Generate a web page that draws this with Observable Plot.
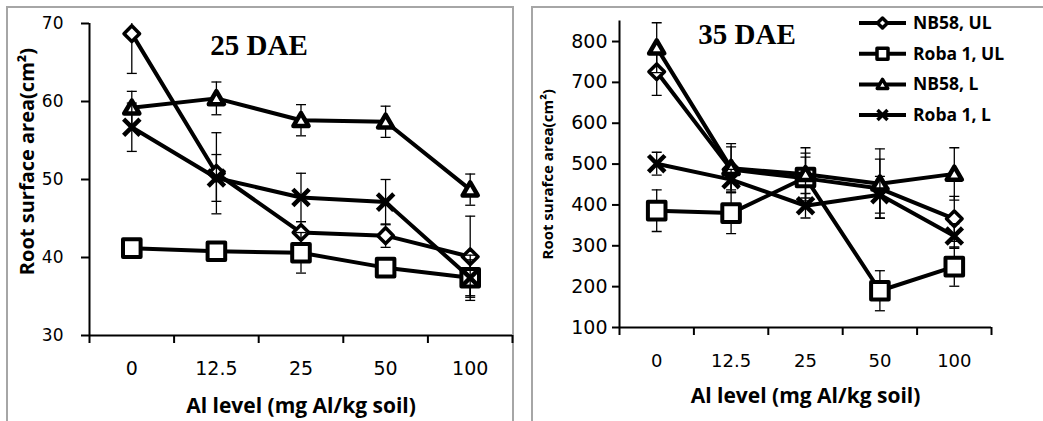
<!DOCTYPE html>
<html>
<head>
<meta charset="utf-8">
<script src="https://cdn.jsdelivr.net/npm/d3@7"></script>
<script src="https://cdn.jsdelivr.net/npm/@observablehq/plot@0.6"></script>
<style>
  html, body { margin: 0; padding: 0; background: #fff; }
  body { width: 1043px; height: 421px; overflow: hidden; position: relative; font-family: "Open Sans", sans-serif; }
  .frame { position: absolute; box-sizing: border-box; border-color: #a6a6a6; border-style: solid; }
  #f1 { left: 6px; top: 6px; width: 508px; height: 430px; border-width: 2px 2px 0 2px; }
  #f2 { left: 531px; top: 6px; width: 520px; height: 430px; border-width: 2px 0 0 2px; }
  .panel { position: absolute; top: 0; }
  #p1 { left: 0; }
  #p2 { left: 520px; }
  #legend { position: absolute; left: 0; top: 0; }
</style>
</head>
<body>
<div class="frame" id="f1"></div>
<div class="frame" id="f2"></div>
<div class="panel" id="p1"></div>
<div class="panel" id="p2"></div>
<svg id="legend" width="1043" height="421"></svg>
<script>
// ---------- data ----------
const categories = ["0", "12.5", "25", "50", "100"];
const seriesNames = ["NB58, UL", "Roba 1, UL", "NB58, L", "Roba 1, L"];

// 25 DAE (root surface area, cm²) and error bars
const d25_NB58_UL = [68.7, 50.8, 43.2, 42.8, 40.1];
const d25_NB58_UL_err = [5.1, 5.2, 1.4, 1.5, 5.2];
const d25_Roba1_UL = [41.2, 40.8, 40.6, 38.7, 37.4];
const d25_Roba1_UL_err = [0.8, 0.8, 2.6, 1.2, 2.3];
const d25_NB58_L = [59.2, 60.4, 57.6, 57.4, 48.7];
const d25_NB58_L_err = [2.1, 2.1, 2.0, 2.0, 2.0];
const d25_Roba1_L = [56.7, 50.2, 47.7, 47.1, 37.4];
const d25_Roba1_L_err = [3.1, 3.0, 3.1, 2.9, 2.9];

// 35 DAE
const d35_NB58_UL = [726, 487, 465, 440, 366];
const d35_NB58_UL_err = [58, 55, 62, 72, 55];
const d35_Roba1_UL = [386, 380, 467, 190, 249];
const d35_Roba1_UL_err = [51, 50, 50, 49, 48];
const d35_NB58_L = [785, 490, 475, 452, 476];
const d35_NB58_L_err = [61, 60, 65, 85, 64];
const d35_Roba1_L = [501, 462, 398, 425, 324];
const d35_Roba1_L_err = [28, 25, 30, 45, 30];

const yTicks25 = [30, 40, 50, 60, 70];
const yTicks35 = [100, 200, 300, 400, 500, 600, 700, 800];

// ---------- symbols ----------
const R = size => Math.sqrt(size / Math.PI);
const symDiamond = { draw(c, s) { const r = R(s); c.moveTo(0, -r); c.lineTo(r, 0); c.lineTo(0, r); c.lineTo(-r, 0); c.closePath(); } };
const symSquare = { draw(c, s) { const r = R(s); c.moveTo(-r, -r); c.lineTo(r, -r); c.lineTo(r, r); c.lineTo(-r, r); c.closePath(); } };
const symTriangle = { draw(c, s) { const r = R(s); c.moveTo(0, -r); c.lineTo(r * 1.05, r * 0.8); c.lineTo(-r * 1.05, r * 0.8); c.closePath(); } };
const symTimes = { draw(c, s) { const r = R(s); c.moveTo(-r, -r); c.lineTo(r, r); c.moveTo(r, -r); c.lineTo(-r, r); } };
const symCap = { draw(c, s) { const r = R(s); c.moveTo(-r, 0); c.lineTo(r, 0); } };

const symbols = [symDiamond, symSquare, symTriangle, symTimes];
const symR = [7.8, 8.8, 7.2, 8.2];
const symSW = [3.5, 4, 4.5, 4.5];
const tickFont = "'DejaVu Sans', sans-serif";

function buildPanel(el, cfg) {
  const marks = [];
  cfg.values.forEach((vals, s) => {
    const rows = vals.map((v, i) => ({
      x: categories.indexOf(categories[i]),
      v, lo: v - cfg.errs[s][i], hi: v + cfg.errs[s][i]
    }));
    marks.push(Plot.ruleX(rows, {x: "x", y1: "lo", y2: "hi", stroke: "black", strokeWidth: 1.3, clip: true}));
    marks.push(Plot.dot(rows, {x: "x", y: "lo", symbol: symCap, r: 5, fill: "none", stroke: "black", strokeWidth: 1.3, clip: true}));
    marks.push(Plot.dot(rows, {x: "x", y: "hi", symbol: symCap, r: 5, fill: "none", stroke: "black", strokeWidth: 1.3, clip: true}));
    marks.push(Plot.line(rows, {x: "x", y: "v", stroke: "black", strokeWidth: 4, strokeLinejoin: "round"}));
    marks.push(Plot.dot(rows, {x: "x", y: "v", symbol: symbols[s], r: symR[s], fill: "white", stroke: "black",
      strokeWidth: symSW[s], strokeLinejoin: "round"}));
  });
  const idx = categories.map((c, i) => i);
  const bounds = d3.range(-0.5, categories.length, 1);
  const plot = Plot.plot({
    width: cfg.width, height: 421,
    marginLeft: cfg.ml, marginRight: cfg.mr, marginTop: cfg.mt, marginBottom: cfg.mb,
    style: {fontFamily: "'Open Sans', sans-serif", fontSize: "17px", color: "black", background: "transparent", overflow: "visible"},
    x: {type: "linear", domain: [-0.5, categories.length - 0.5]},
    y: {domain: cfg.yDomain},
    marks: [
      Plot.axisY(cfg.yTicks, {tickSize: cfg.yTickSize, tickPadding: cfg.yTickPad, strokeWidth: 2,
        fontSize: cfg.yFont, fontFamily: tickFont, label: null}),
      Plot.axisX(bounds, {tickSize: 8, strokeWidth: 2, tickFormat: () => "", label: null}),
      Plot.axisX(idx, {tickSize: 0, tickPadding: cfg.xPad, tickFormat: i => categories[i],
        fontSize: cfg.xFont, fontFamily: tickFont, label: null}),
      Plot.ruleX([-0.5], {stroke: "black", strokeWidth: 2}),
      Plot.ruleY([cfg.yDomain[0]], {stroke: "black", strokeWidth: 2}),
      ...marks,
      Plot.text([cfg.title], {text: d => d, frameAnchor: "top", dx: cfg.titleDx, dy: cfg.titleDy, lineAnchor: "middle",
        textAnchor: "middle", fontFamily: "'Liberation Serif', 'Times New Roman', serif", fontWeight: "bold", fontSize: 29}),
      Plot.text(["Al level (mg Al/kg soil)"], {text: d => d, frameAnchor: "bottom", dy: cfg.xTitleDy, lineAnchor: "middle",
        textAnchor: "middle", fontWeight: "bold", fontSize: 21}),
      Plot.text([cfg.yTitle], {text: d => d, frameAnchor: "left", dx: cfg.yTitleDx, dy: cfg.yTitleDy, rotate: -90,
        lineAnchor: "middle", textAnchor: "middle", fontWeight: "bold", fontSize: cfg.yTitleFont})
    ]
  });
  el.appendChild(plot);
}

buildPanel(document.getElementById("p1"), {
  width: 520, ml: 89, mr: 8, mt: 23, mb: 86,
  yDomain: [30, 70], yTicks: yTicks25, yTickSize: 8, yTickPad: 18, yFont: 17, xFont: 19, xPad: 26,
  values: [d25_NB58_UL, d25_Roba1_UL, d25_NB58_L, d25_Roba1_L],
  errs: [d25_NB58_UL_err, d25_Roba1_UL_err, d25_NB58_L_err, d25_Roba1_L_err],
  title: "25 DAE", titleDx: -42, titleDy: 22,
  xTitleDy: 70.6, yTitle: "Root surface area(cm²)", yTitleDx: -62, yTitleDy: -18, yTitleFont: 20
});

buildPanel(document.getElementById("p2"), {
  width: 523, ml: 99, mr: 52, mt: 20.6, mb: 94,
  yDomain: [100, 850], yTicks: yTicks35, yTickSize: 7, yTickPad: 5, yFont: 19, xFont: 18, xPad: 27,
  values: [d35_NB58_UL, d35_Roba1_UL, d35_NB58_L, d35_Roba1_L],
  errs: [d35_NB58_UL_err, d35_Roba1_UL_err, d35_NB58_L_err, d35_Roba1_L_err],
  title: "35 DAE", titleDx: -58.5, titleDy: 14,
  xTitleDy: 68.6, yTitle: "Root surafce area(cm²)", yTitleDx: -71, yTitleDy: 0, yTitleFont: 15
});

// ---------- legend ----------
const lg = d3.select("#legend");
const legR = [5, 5.5, 5, 5];
seriesNames.forEach((name, i) => {
  const y = 23 + i * 30.7;
  const g = lg.append("g");
  g.append("line").attr("x1", 859).attr("x2", 906).attr("y1", y).attr("y2", y)
    .attr("stroke", "black").attr("stroke-width", 4);
  g.append("path").attr("transform", `translate(882.5,${y})`)
    .attr("d", d3.symbol(symbols[i], Math.PI * legR[i] * legR[i])())
    .attr("fill", "white").attr("stroke", "black").attr("stroke-width", 3.5).attr("stroke-linejoin", "round");
  g.append("text").attr("x", 913).attr("y", y + 6).text(name)
    .attr("font-family", "'Open Sans', sans-serif").attr("font-weight", "bold").attr("font-size", 17.5);
});
</script>
</body>
</html>
